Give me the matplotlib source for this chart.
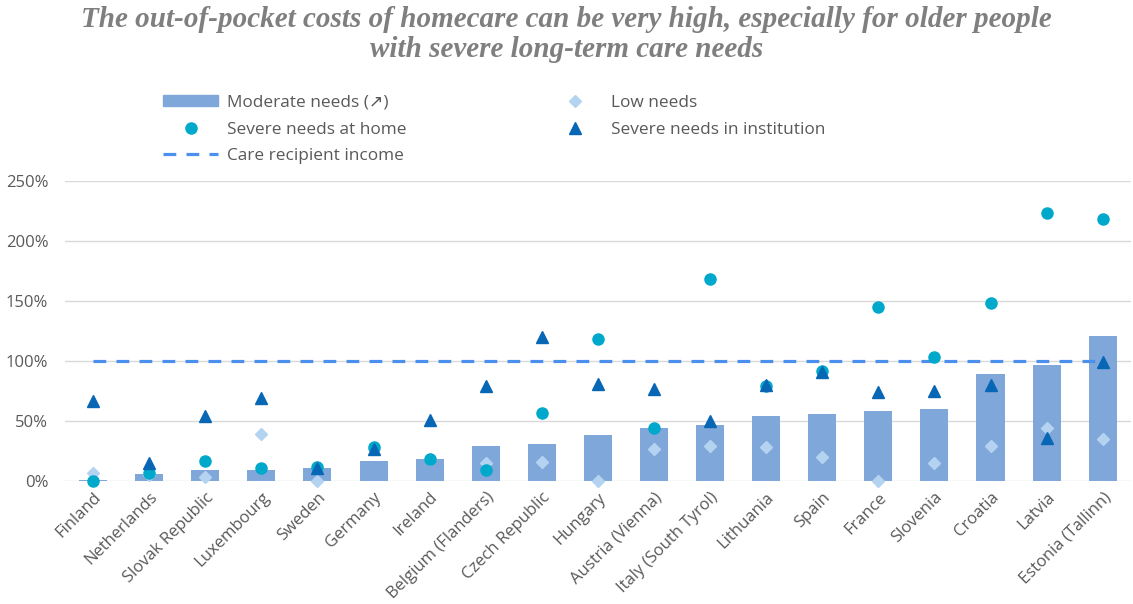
import matplotlib.pyplot as plt
from matplotlib.lines import Line2D
from matplotlib.patches import Patch
from matplotlib.ticker import FuncFormatter

countries = ["Finland", "Netherlands", "Slovak Republic", "Luxembourg", "Sweden",
             "Germany", "Ireland", "Belgium (Flanders)", "Czech Republic", "Hungary",
             "Austria (Vienna)", "Italy (South Tyrol)", "Lithuania", "Spain", "France",
             "Slovenia", "Croatia", "Latvia", "Estonia (Tallinn)"]
moderate = [1, 6, 9, 9, 11, 17, 18, 29, 31, 38, 44, 47, 54, 56, 58, 60, 89, 97, 121]
low = [7, 5, 3, 39, 0, 27, 18, 15, 16, 0, 27, 29, 28, 20, 0, 15, 29, 44, 35]
severe_home = [0, 7, 17, 11, 12, 28, 18, 9, 57, 118, 44, 168, 79, 92, 145, 103, 148, 223, 218]
severe_inst = [67, 15, 54, 69, 11, 27, 51, 79, 120, 81, 77, 50, 80, 91, 74, 75, 80, 36, 99]
income = [100] * len(countries)

BAR = "#7fa7d9"; LOW = "#b4d3f1"; HOME = "#00a9cc"; INST = "#0767b5"
LINE = "#4b90ec"; GRID = "#d9d9d9"; TXT = "#595959"; TITLE = "#7f7f7f"

plt.rcParams["font.family"] = ["Open Sans", "DejaVu Sans"]

fig, ax = plt.subplots(figsize=(11.33, 6.04), dpi=100)
fig.subplots_adjust(left=0.0574, right=0.998, bottom=0.2036, top=0.7003)

x = list(range(len(countries)))
ax.bar(x, moderate, width=0.5, color=BAR, zorder=2)
ax.plot(x, income, color=LINE, lw=2.3, dashes=(4, 3.2), zorder=3)
ax.plot(x, low, ls="none", marker="D", ms=6.5, color=LOW, zorder=4, clip_on=False)
ax.plot(x, severe_home, ls="none", marker="o", ms=8, color=HOME, zorder=5, clip_on=False)
ax.plot(x, severe_inst, ls="none", marker="^", ms=8.5, color=INST, zorder=6, clip_on=False)

ax.set_xlim(-0.5, len(countries) - 0.5)
ax.set_ylim(0, 250)
ax.set_yticks(range(0, 251, 50))
ax.yaxis.set_major_formatter(FuncFormatter(lambda v, p: f"{v:.0f}%"))
ax.grid(axis="y", color=GRID, lw=1, zorder=0)
ax.set_axisbelow(True)
for s in ax.spines.values():
    s.set_visible(False)
ax.tick_params(length=0, labelsize=12, colors=TXT)
ax.tick_params(axis="y", pad=12)
ax.set_xticks(x)
ax.set_xticklabels(countries, rotation=45, ha="right", rotation_mode="anchor")
ax.tick_params(axis="x", pad=6)

handles = [
    Patch(color=BAR),
    Line2D([], [], ls="none", marker="o", ms=8, color=HOME),
    Line2D([], [], color=LINE, lw=2.3, dashes=(4, 3.2)),
    Line2D([], [], ls="none", marker="D", ms=6.5, color=LOW),
    Line2D([], [], ls="none", marker="^", ms=8.5, color=INST),
]
labels = ["Moderate needs (↗)", "Severe needs at home", "Care recipient income",
          "Low needs", "Severe needs in institution"]
fig.legend(handles, labels, ncol=2, loc="upper left", bbox_to_anchor=(0.144, 0.843),
           frameon=False, fontsize=12.4, labelcolor=TXT, handlelength=3.2,
           handleheight=0.6, handletextpad=0.5, columnspacing=8.2, labelspacing=0.62,
           borderaxespad=0, borderpad=0)

fig.text(0.5, 0.99, "The out-of-pocket costs of homecare can be very high, especially for older people\n"
         "with severe long-term care needs", ha="center", va="top", fontsize=21,
         fontweight="bold", fontstyle="italic", family="Liberation Serif", color=TITLE,
         linespacing=1.13)

fig.savefig("out.png", dpi=100)
